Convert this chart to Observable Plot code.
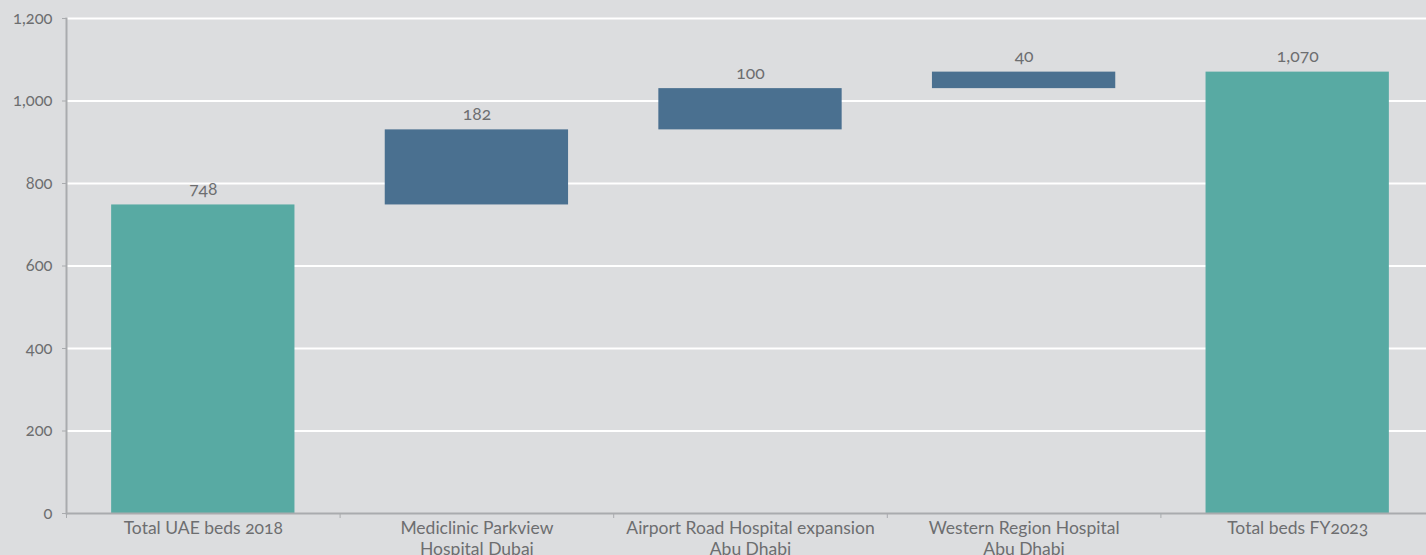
<!DOCTYPE html>
<html>
<head>
<meta charset="utf-8">
<script src="https://cdn.jsdelivr.net/npm/d3@7"></script>
<script src="https://cdn.jsdelivr.net/npm/@observablehq/plot@0.6"></script>
<style>
  html, body { margin: 0; padding: 0; background: #dcdddf; overflow: hidden; width: 1426px; height: 555px; }
  #chart svg { max-width: none !important; font-family: Lato, "Open Sans", sans-serif; font-weight: 400; font-variant-numeric: oldstyle-nums; font-feature-settings: "onum" 1; }
</style>
</head>
<body>
<div id="chart"></div>
<script>
const categories = [
  "Total UAE beds 2018",
  "Mediclinic Parkview\nHospital Dubai",
  "Airport Road Hospital expansion\nAbu Dhabi",
  "Western Region Hospital\nAbu Dhabi",
  "Total beds FY2023"
];
const values = [748, 182, 100, 40, 1070];
const kinds = ["total", "delta", "delta", "delta", "total"];
const yTicks = [0, 200, 400, 600, 800, 1000, 1200];

let running = 0;
const rows = categories.map((c, i) => {
  let lo, hi;
  if (kinds[i] === "total") { lo = 0; hi = values[i]; running = values[i]; }
  else { lo = running; hi = running + values[i]; running = hi; }
  return { i, category: c, value: values[i], kind: kinds[i], lo, hi };
});
const boundaries = d3.range(categories.length + 1).map(k => k - 0.5);

const textColor = "#6d6e70";
const axisColor = "#a9abae";
const fmt = d3.format(",");

const chart = Plot.plot({
  width: 1434,
  height: 555,
  marginLeft: 66,
  marginRight: 0,
  marginTop: 18,
  marginBottom: 42,
  style: { background: "#dcdddf", color: textColor, fontSize: "17px", overflow: "visible", maxWidth: "none" },
  x: { domain: [-0.5, categories.length - 0.5] },
  y: { domain: [0, 1200] },
  color: { domain: ["total", "delta"], range: ["#58aaa3", "#4a7090"] },
  marks: [
    Plot.ruleY(yTicks.filter(t => t > 0), { stroke: "white", strokeWidth: 2 }),
    Plot.rectY(rows, { x1: d => d.i - 0.335, x2: d => d.i + 0.335, y1: "lo", y2: "hi", fill: "kind" }),
    Plot.text(rows, { x: "i", y: "hi", text: d => fmt(d.value), lineAnchor: "bottom", dy: -10, fill: textColor, fontSize: 17.5 }),
    Plot.frame({ anchor: "left", stroke: axisColor, strokeWidth: 2 }),
    Plot.ruleY([0], { stroke: axisColor, strokeWidth: 2 }),
    Plot.axisY({ ticks: yTicks, tickFormat: d => fmt(d), tickSize: 4, tickPadding: 10, stroke: axisColor, fill: textColor, fontSize: 16.5, label: null }),
    Plot.axisX({ ticks: boundaries, tickFormat: () => "", tickSize: 5, stroke: axisColor, label: null }),
    Plot.axisX({ ticks: d3.range(categories.length), tickFormat: i => categories[i], tickSize: 0, tickPadding: 6, fill: textColor, fontSize: 17.5, lineHeight: 1.18, label: null })
  ]
});
document.getElementById("chart").append(chart);
</script>
</body>
</html>
